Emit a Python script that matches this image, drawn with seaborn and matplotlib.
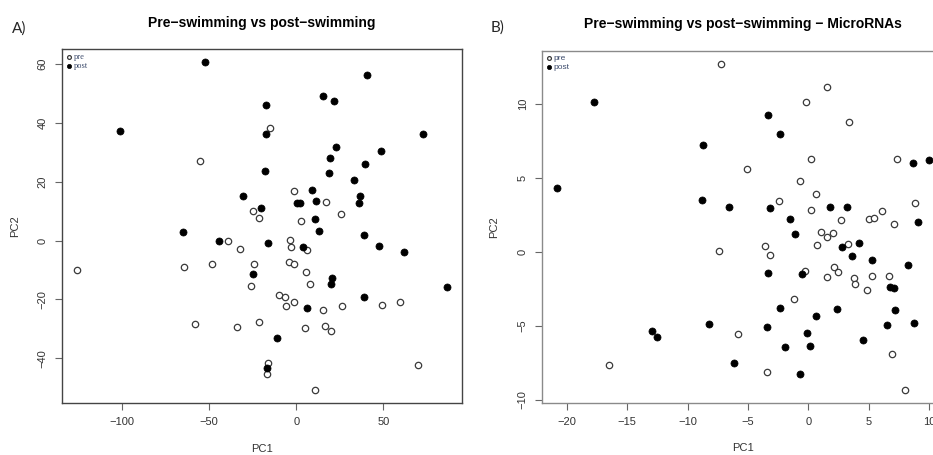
import numpy as np
import pandas as pd
import seaborn as sns
import matplotlib.pyplot as plt

# panel A: PCA of all samples
a_pre_x = [-125.8, -14.9, -55.2, -1.5, 17.2, -25.0, -21.2, 25.8, 2.7, -38.9,
           -3.4, -2.7, -32.3, 6.3, -64.1, -48.1, -24.2, -4.2, -1.0, 5.5,
           7.8, -25.6, -10.1, -6.5, -5.9, -1.0, 15.6, 26.1, 49.0, 59.5,
           -58.0, -33.8, -21.2, 4.8, 16.6, 19.7, 69.8, -16.2, -17.0, 10.7]
a_pre_y = [-10.1, 38.1, 27.0, 16.8, 13.2, 9.9, 7.8, 9.1, 6.8, -0.1,
           0.2, -2.3, -2.7, -3.2, -9.1, -8.0, -7.9, -7.4, -7.8, -10.8,
           -14.7, -15.4, -18.6, -19.2, -22.3, -20.9, -23.7, -22.2, -21.9, -20.7,
           -28.3, -29.3, -27.7, -29.6, -29.1, -30.7, -42.1, -41.6, -45.2, -50.8]
a_post_x = [-52.3, -100.8, 40.5, 15.3, 21.6, -17.2, -17.4, 72.5, 22.9, 48.7,
            19.5, 39.3, -18.1, 18.9, 33.2, -30.2, 9.2, 36.6, 11.3, 0.4,
            2.1, 35.7, -20.0, 10.5, 12.8, -64.9, 39.1, -44.1, -16.2, 4.0,
            47.5, 61.5, -24.6, 20.6, 20.0, 86.3, 38.7, 6.3, -11.1, -16.6]
a_post_y = [60.5, 37.2, 56.1, 49.2, 47.5, 46.0, 36.2, 36.2, 31.7, 30.4,
            28.0, 25.9, 23.7, 23.0, 20.7, 15.3, 17.1, 15.1, 13.6, 12.8,
            12.6, 12.6, 11.2, 7.3, 3.2, 2.8, 1.9, -0.1, -0.8, -2.2,
            -1.9, -3.9, -11.3, -12.7, -14.9, -15.9, -19.2, -22.8, -33.2, -43.4]

# panel B: PCA of microRNAs
b_pre_x = [-7.27, 1.57, -0.19, 3.34, 0.25, 7.32, -5.08, -0.69, 0.61, -2.43,
           0.19, 8.87, 2.68, 5.0, 5.44, 6.10, 7.07, 1.05, 1.57, 2.04,
           0.75, 3.26, -3.62, -3.18, -7.43, -0.30, 2.13, 2.43, 1.52, 3.78,
           3.84, 5.30, 6.66, 4.89, -1.16, -5.80, -16.55, -3.45, 6.96, 8.04]
b_pre_y = [12.70, 11.10, 10.14, 8.78, 6.26, 6.28, 5.56, 4.77, 3.90, 3.42,
           2.79, 3.31, 2.12, 2.23, 2.25, 2.73, 1.87, 1.31, 0.99, 1.26,
           0.45, 0.52, 0.41, -0.20, 0.05, -1.31, -1.04, -1.35, -1.69, -1.76,
           -2.21, -1.62, -1.64, -2.61, -3.18, -5.54, -7.66, -8.13, -6.94, -9.32]
b_post_x = [-20.86, -17.76, -3.34, -2.35, -8.73, -8.81, -6.60, -3.15, -1.52, -1.13,
            1.80, 3.20, 8.67, 10.0, 9.09, 2.76, 4.17, 3.59, 5.28, 8.26,
            -3.34, -0.52, 6.74, 7.07, -2.32, 2.40, 0.64, 7.21, 6.49, 8.78,
            -8.23, -12.98, -12.57, -3.43, -0.08, -1.96, 0.14, 4.50, -6.13, -0.69]
b_post_y = [4.28, 10.09, 9.26, 7.97, 7.18, 3.47, 3.02, 2.95, 2.18, 1.19,
            3.02, 3.00, 5.99, 6.19, 2.00, 0.32, 0.61, -0.29, -0.54, -0.88,
            -1.42, -1.53, -2.36, -2.43, -3.78, -3.85, -4.32, -3.94, -4.93, -4.82,
            -4.86, -5.34, -5.74, -5.07, -5.50, -6.44, -6.40, -5.99, -7.55, -8.29]

sns.set_theme(style='white')
plt.rcParams['font.family'] = ['Liberation Sans', 'DejaVu Sans']

W, H = 933, 455
fig = plt.figure(figsize=(W / 100, H / 100), dpi=100)


def px_axes(left, top, right, bottom):
    return fig.add_axes([left / W, 1 - bottom / H, (right - left) / W, (bottom - top) / H])


def pca_panel(ax, pre_x, pre_y, post_x, post_y, title, xticks, yticks, spine_col, leg_font):
    df_pre = pd.DataFrame({'PC1': pre_x, 'PC2': pre_y})
    df_post = pd.DataFrame({'PC1': post_x, 'PC2': post_y})
    sns.scatterplot(data=df_pre, x='PC1', y='PC2', ax=ax, s=21, marker='o',
                    facecolor='white', edgecolor='#3a3a3a', linewidth=0.9, label='pre')
    sns.scatterplot(data=df_post, x='PC1', y='PC2', ax=ax, s=26, marker='o',
                    color='black', edgecolor='black', linewidth=0.5, label='post')
    ax.margins(x=0.04, y=0.04)
    ax.set_xticks(xticks)
    ax.set_yticks(yticks)
    ax.tick_params(axis='both', direction='out', length=5, width=0.8, color='#666666',
                   labelsize=8, labelcolor='#333333', pad=5, bottom=True, left=True)
    for lab in ax.get_yticklabels():
        lab.set_rotation(90)
        lab.set_va('center')
    for sp in ax.spines.values():
        sp.set_color(spine_col)
        sp.set_linewidth(1.0)
    ax.set_xlabel('PC1', fontsize=8, color='#333333')
    ax.set_ylabel('PC2', fontsize=8, color='#333333')
    ax.xaxis.set_label_coords(0.5, -0.115)
    ax.yaxis.set_label_coords(-0.105, 0.5)
    ax.set_title(title, fontsize=10, fontweight='bold', color='black', pad=16)
    leg = ax.legend(loc='upper left', frameon=False, handletextpad=0.2, handlelength=0.8,
                    borderaxespad=0.25, borderpad=0.2, labelspacing=0.15, markerscale=0.6,
                    prop={'family': leg_font, 'size': 6})
    for t in leg.get_texts():
        t.set_color('#3b4a6b')


ax_a = px_axes(61.7, 49.3, 461.7, 403.3)
pca_panel(ax_a, a_pre_x, a_pre_y, a_post_x, a_post_y,
          'Pre\u2212swimming vs post\u2212swimming',
          [-100, -50, 0, 50], [-40, -20, 0, 20, 40, 60], '#444444', 'Liberation Serif')

ax_b = px_axes(541.7, 50.7, 944, 402.7)
pca_panel(ax_b, b_pre_x, b_pre_y, b_post_x, b_post_y,
          'Pre\u2212swimming vs post\u2212swimming \u2212 MicroRNAs',
          [-20, -15, -10, -5, 0, 5, 10], [-10, -5, 0, 5, 10], '#8a8a8a', 'Liberation Sans')

fig.text(12 / W, 1 - 29 / H, 'A)', fontsize=11, family=['Lato', 'DejaVu Sans'], va='center')
fig.text(491 / W, 1 - 28 / H, 'B)', fontsize=11, family=['Lato', 'DejaVu Sans'], va='center')

fig.savefig('out.png', dpi=100)
